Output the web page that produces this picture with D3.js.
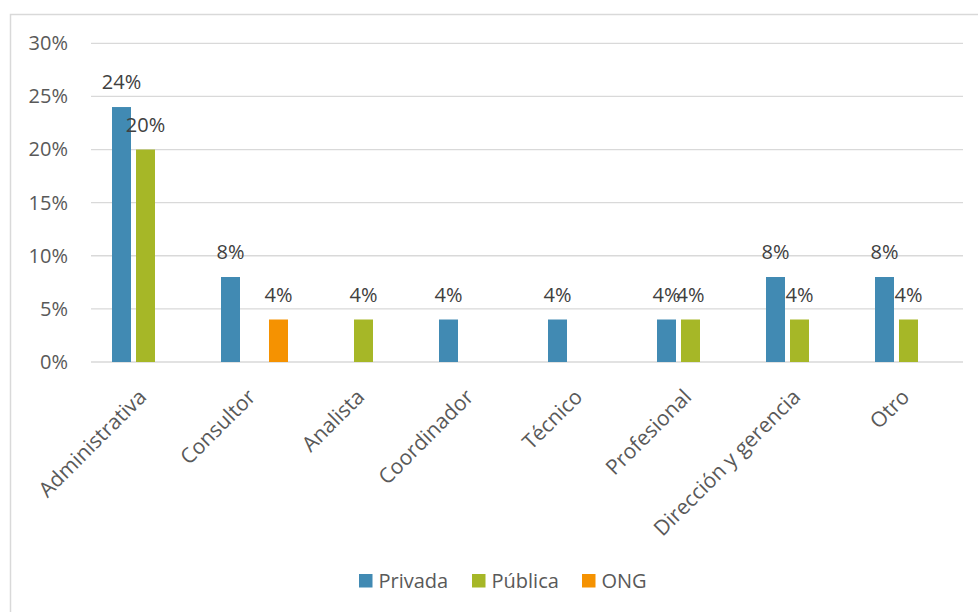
<!DOCTYPE html>
<html>
<head>
<meta charset="utf-8">
<script src="https://cdn.jsdelivr.net/npm/d3@7/dist/d3.min.js"></script>
<style>
  html, body { margin: 0; padding: 0; background: #fff; }
  svg { display: block; font-family: "Open Sans", "Noto Sans", sans-serif; }
</style>
</head>
<body>
<svg id="chart" width="978" height="612"></svg>
<script>
const categories = ["Administrativa", "Consultor", "Analista", "Coordinador", "Técnico", "Profesional", "Dirección y gerencia", "Otro"];
const seriesNames = ["Privada", "Pública", "ONG"];
const privada = [0.24, 0.08, null, 0.04, 0.04, 0.04, 0.08, 0.08];
const publica = [0.20, null, 0.04, null, null, 0.04, 0.04, 0.04];
const ong     = [null, 0.04, null, null, null, null, null, null];
const yTicks = [0, 0.05, 0.10, 0.15, 0.20, 0.25, 0.30];
const colors = ["#418AB3", "#A6B727", "#F59201"];

const seriesValues = [privada, publica, ong];

const svg = d3.select("#chart");
const W = 978, H = 612;
const plot = { left: 91, right: 963, top: 43.3, bottom: 362 };
const FS = 20;

// outer border
svg.append("rect")
  .attr("x", 10.5).attr("y", 14.5)
  .attr("width", W + 10).attr("height", H + 10)
  .attr("fill", "none").attr("stroke", "#d9d9d9").attr("stroke-width", 1.5);

const x = d3.scaleBand().domain(categories).range([plot.left, plot.right]).padding(0);
const y = d3.scaleLinear().domain([0, 0.30]).range([plot.bottom, plot.top]);

const barW = 19, step = 24;
const xs = d3.scaleBand().domain(seriesNames).range([-step * 1.5, step * 1.5]);

// gridlines
svg.append("g").selectAll("line").data(yTicks).join("line")
  .attr("x1", plot.left).attr("x2", plot.right)
  .attr("y1", d => y(d)).attr("y2", d => y(d))
  .attr("stroke", "#d9d9d9").attr("stroke-width", 1.3);

// y axis labels
const yAxis = d3.axisLeft(y).tickValues(yTicks).tickFormat(d3.format(".0%")).tickSize(0).tickPadding(0);
const gy = svg.append("g").attr("transform", `translate(68,0)`).call(yAxis);
gy.select(".domain").remove();
gy.selectAll("text").attr("font-size", FS).attr("fill", "#595959")
  .attr("font-family", "'Open Sans', sans-serif");

// bars
const data = [];
categories.forEach((c, i) => {
  seriesNames.forEach((s, j) => {
    const v = seriesValues[j][i];
    if (v !== null && v !== undefined) data.push({ c, s, v, j });
  });
});

const cx = d => x(d.c) + x.bandwidth() / 2 + xs(d.s) + xs.bandwidth() / 2;

svg.append("g").selectAll("rect").data(data).join("rect")
  .attr("x", d => cx(d) - barW / 2)
  .attr("y", d => y(d.v))
  .attr("width", barW)
  .attr("height", d => y(0) - y(d.v))
  .attr("fill", d => colors[d.j]);

// data labels
svg.append("g").selectAll("text").data(data).join("text")
  .attr("x", d => cx(d))
  .attr("y", d => y(d.v) - 18)
  .attr("text-anchor", "middle")
  .attr("font-size", FS)
  .attr("fill", "#404040")
  .text(d => d3.format(".0%")(d.v));

// x axis labels
svg.append("g").selectAll("text").data(categories).join("text")
  .attr("transform", d => `translate(${x(d) + x.bandwidth() / 2 - 3},${plot.bottom + 31}) rotate(-45)`)
  .attr("text-anchor", "end")
  .attr("dy", "0.35em")
  .attr("font-size", 21)
  .attr("fill", "#595959")
  .text(d => d);

// legend
const legendX = [359, 472, 582];
const lg = svg.append("g").selectAll("g").data(seriesNames).join("g")
  .attr("transform", (d, i) => `translate(${legendX[i]},574)`);
lg.append("rect").attr("width", 13.5).attr("height", 13.5).attr("fill", (d, i) => colors[i]);
lg.append("text").attr("x", 19.5).attr("y", 14).attr("font-size", FS).attr("fill", "#595959").text(d => d);
</script>
</body>
</html>
